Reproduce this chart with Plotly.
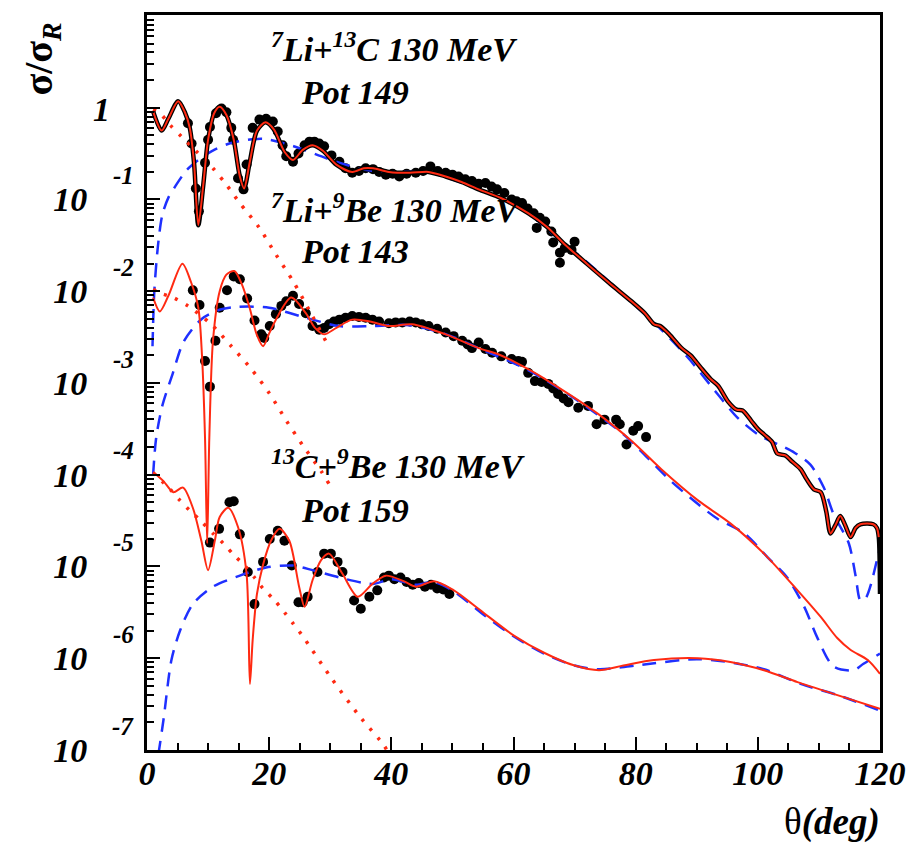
import plotly.graph_objects as go

# ---------------- 7Li + 13C, 130 MeV (Pot 149) ----------------
li13c_data_theta = [6.7, 7.3, 8.0, 8.5, 9.5, 10.0, 10.3, 11.3, 12.2, 13.0, 13.8, 14.1, 14.9, 15.8,
                    16.3, 17.3, 18.4, 19.5, 20.6, 21.4, 22.2, 22.8, 23.9, 24.8, 25.8, 26.6, 27.4,
                    28.2, 29.0, 30.2, 31.5, 32.5, 33.6, 34.7, 35.8, 37.0, 38.0, 39.1, 40.2, 41.3,
                    42.5, 44.0, 45.2, 46.4, 47.6, 48.9, 50.0, 51.0, 52.1, 53.2, 54.3, 55.4, 56.4,
                    57.3, 58.5, 59.7, 60.5, 61.4, 62.3, 63.3, 63.8, 64.3, 65.2, 66.2, 66.5, 67.6,
                    67.6, 68.4, 69.5, 70.0]
li13c_data_log = [-0.17, -0.39, -0.88, -1.13, -0.60, -0.35, -0.21, -0.06, -0.01, -0.05, -0.22, -0.35,
                  -0.77, -0.89, -0.62, -0.22, -0.13, -0.12, -0.15, -0.26, -0.41, -0.53, -0.59, -0.50,
                  -0.41, -0.37, -0.37, -0.39, -0.42, -0.52, -0.59, -0.66, -0.71, -0.69, -0.66, -0.67,
                  -0.70, -0.73, -0.72, -0.75, -0.72, -0.71, -0.69, -0.64, -0.69, -0.71, -0.73, -0.75,
                  -0.78, -0.80, -0.83, -0.82, -0.86, -0.89, -0.93, -1.00, -1.02, -1.04, -1.10, -1.15,
                  -1.31, -1.20, -1.24, -1.35, -1.47, -1.58, -1.69, -1.53, -1.55, -1.46]

li13c_fit_theta = [1.0, 2.4, 3.5, 5.1, 6.2, 7.0, 7.7, 8.4, 9.2, 10.0, 11.0, 11.9, 13.0, 14.2, 15.2,
                   15.9, 16.8, 18.0, 19.4, 20.8, 22.5, 23.9, 25.5, 27.1, 28.8, 31.0, 33.6, 35.5,
                   37.0, 39.6, 43.0, 46.1, 48.9, 51.5, 54.3, 58.1, 62.4, 65.5, 68.4, 72.0, 75.5,
                   79.3, 81.5, 83.0, 84.0, 85.5, 87.5, 89.0, 90.5, 92.3, 93.5, 95.1, 96.5, 97.5,
                   98.9, 100.0, 101.0, 102.3, 103.2, 104.5, 105.5, 107.0, 108.0, 109.2, 110.3,
                   111.2, 111.9, 112.7, 113.5, 114.3, 115.2, 116.0, 116.8, 118.9, 119.5, 119.8]
li13c_fit_log = [-0.04, -0.25, -0.12, 0.07, -0.05, -0.22, -0.60, -1.28, -0.85, -0.35, -0.06, 0.01,
                 -0.08, -0.35, -0.75, -0.88, -0.60, -0.25, -0.16, -0.24, -0.48, -0.57, -0.46, -0.41,
                 -0.47, -0.62, -0.70, -0.66, -0.66, -0.70, -0.71, -0.70, -0.75, -0.81, -0.89, -0.99,
                 -1.15, -1.30, -1.49, -1.70, -1.90, -2.11, -2.24, -2.36, -2.38, -2.47, -2.62, -2.70,
                 -2.82, -2.96, -3.03, -3.20, -3.29, -3.30, -3.41, -3.50, -3.56, -3.64, -3.77, -3.79,
                 -3.85, -3.94, -4.05, -4.16, -4.19, -4.40, -4.64, -4.55, -4.45, -4.55, -4.68, -4.58,
                 -4.54, -4.54, -4.58, -4.68]
li13c_tail_theta = [120.0]
li13c_tail_log = [-5.30]

li13c_far_theta = [0.9, 1.2, 1.8, 2.5, 3.5, 4.6, 6.5, 8.6, 11.0, 14.0, 19.0, 24.0, 29.3, 33.0, 36.0,
                   40.0, 46.0, 49.0, 54.3, 58.0, 62.4, 68.4, 72.0, 78.8, 83.6, 88.5, 93.4, 96.7,
                   100.0, 102.0, 104.3, 106.0, 108.6, 110.8, 112.4, 114.9, 116.0, 116.8, 117.6,
                   118.4, 119.5, 120.0]
li13c_far_log = [-2.60, -2.00, -1.50, -1.17, -0.98, -0.86, -0.68, -0.56, -0.46, -0.38, -0.34, -0.42,
                 -0.55, -0.63, -0.68, -0.70, -0.70, -0.76, -0.89, -0.99, -1.15, -1.49, -1.68, -2.09,
                 -2.38, -2.72, -3.12, -3.38, -3.56, -3.63, -3.70, -3.76, -3.89, -4.14, -4.43, -4.75,
                 -5.10, -5.37, -5.35, -5.22, -4.93, -4.80]

li13c_near_theta = [1.0, 2.1, 3.8, 5.7, 8.0, 10.8, 13.0, 15.2, 18.4, 21.1, 23.9, 26.5, 29.8]
li13c_near_log = [-0.02, -0.06, -0.19, -0.32, -0.47, -0.66, -0.84, -1.04, -1.31, -1.60, -1.89, -2.20, -2.61]

# ---------------- 7Li + 9Be, 130 MeV (Pot 143) ----------------
li9be_data_theta = [7.5, 8.6, 9.5, 10.3, 11.2, 11.9, 13.1, 14.2, 15.2, 16.4, 17.6, 18.7, 19.2, 20.1,
                    21.1, 22.0, 22.8, 23.9, 24.9, 26.0, 27.1, 28.2, 29.0, 29.8, 30.6, 31.5, 32.5,
                    33.6, 34.7, 35.8, 36.9, 38.0, 39.6, 40.7, 41.8, 43.0, 44.0, 45.0, 46.1, 47.5,
                    48.9, 50.2, 51.6, 52.5, 53.2, 54.3, 55.4, 56.5, 58.0, 59.7, 60.8, 61.4, 62.4,
                    63.5, 64.6, 65.7, 66.5, 67.3, 68.2, 69.0, 70.6, 72.2, 73.6, 74.9, 76.8, 77.4,
                    78.5, 79.6, 80.4, 81.7]
li9be_data_log = [-1.99, -2.15, -2.76, -3.04, -2.54, -2.18, -1.99, -1.84, -1.87, -2.08, -2.32, -2.47,
                  -2.51, -2.38, -2.25, -2.16, -2.11, -2.05, -2.14, -2.24, -2.38, -2.42, -2.40, -2.36,
                  -2.33, -2.31, -2.29, -2.27, -2.28, -2.29, -2.31, -2.33, -2.35, -2.34, -2.34, -2.33,
                  -2.34, -2.36, -2.38, -2.41, -2.45, -2.49, -2.54, -2.58, -2.62, -2.56, -2.63, -2.67,
                  -2.71, -2.74, -2.76, -2.77, -2.89, -2.98, -2.99, -3.01, -3.06, -3.12, -3.17, -3.21,
                  -3.27, -3.25, -3.45, -3.40, -3.40, -3.45, -3.67, -3.52, -3.47, -3.59]

li9be_fit_theta = [1.0, 2.1, 3.5, 5.8, 7.2, 8.4, 9.0, 9.5, 9.85, 10.2, 10.8, 11.9, 13.0, 14.3, 15.5,
                   16.8, 18.0, 19.0, 20.0, 21.1, 23.6, 26.0, 27.5, 29.0, 31.0, 33.6, 36.5, 39.6,
                   43.4, 48.9, 54.3, 57.6, 62.4, 65.7, 73.9, 79.3, 84.2, 90.2, 95.5, 101.0, 106.5,
                   110.3, 113.0, 115.2, 118.0, 120.0]
li9be_fit_log = [-2.07, -2.22, -2.05, -1.70, -1.90, -2.18, -2.70, -3.60, -4.75, -3.60, -2.54, -2.00,
                 -1.82, -1.78, -1.92, -2.18, -2.48, -2.60, -2.46, -2.31, -2.07, -2.24, -2.40, -2.47,
                 -2.40, -2.31, -2.33, -2.38, -2.36, -2.47, -2.62, -2.69, -2.85, -2.98, -3.34, -3.63,
                 -3.94, -4.28, -4.53, -4.86, -5.26, -5.55, -5.78, -5.91, -6.02, -6.17]

li9be_far_theta = [1.0, 1.5, 2.5, 4.2, 6.0, 9.0, 12.0, 15.0, 20.0, 26.0, 31.5, 37.0, 43.0, 49.0,
                   54.3, 62.4, 70.0, 78.0, 82.0, 85.8, 90.2, 93.4, 97.8, 101.6, 104.8, 107.6,
                   109.7, 112.4, 115.7, 117.3, 120.0]
li9be_far_log = [-4.00, -3.60, -3.25, -2.90, -2.55, -2.30, -2.20, -2.17, -2.18, -2.29, -2.38, -2.38,
                 -2.37, -2.47, -2.62, -2.86, -3.17, -3.56, -3.82, -4.07, -4.32, -4.48, -4.64, -4.90,
                 -5.12, -5.44, -5.77, -6.09, -6.13, -6.06, -5.95]

li9be_near_theta = [1.0, 2.1, 4.3, 6.7, 10.5, 13.8, 17.1, 20.1, 22.8, 25.5, 28.5, 29.8]
li9be_near_log = [-1.98, -2.02, -2.07, -2.16, -2.36, -2.60, -2.85, -3.12, -3.41, -3.68, -3.96, -4.10]

# ---------------- 13C + 9Be, 130 MeV (Pot 159) ----------------
c13be_data_theta = [10.3, 11.8, 13.5, 14.2, 15.2, 16.5, 17.6, 19.0, 20.1, 21.4, 22.5, 23.7, 24.8,
                    25.5, 26.3, 27.9, 29.0, 30.1, 31.2, 32.0, 33.9, 35.0, 36.4, 37.7, 38.8, 39.6,
                    40.5, 41.5, 42.5, 43.5, 44.5, 45.5, 46.5, 47.5, 48.5, 49.5]
c13be_data_log = [-4.74, -4.59, -4.30, -4.29, -4.65, -5.06, -5.41, -4.95, -4.70, -4.61, -4.72, -4.99,
                  -5.39, -5.39, -5.33, -5.06, -4.86, -4.86, -4.95, -5.06, -5.37, -5.46, -5.33, -5.26,
                  -5.12, -5.10, -5.14, -5.12, -5.17, -5.20, -5.18, -5.22, -5.20, -5.24, -5.25, -5.30]

c13be_fit_theta = [1.0, 2.7, 4.3, 5.9, 7.5, 8.9, 10.0, 11.1, 11.9, 13.3, 14.9, 16.3, 16.85, 17.3,
                   18.0, 19.0, 20.3, 21.7, 23.3, 24.9, 25.8, 27.1, 28.5, 29.8, 32.0, 34.5, 36.9,
                   39.1, 42.0, 44.0, 47.0, 50.0, 55.0, 60.0, 65.0, 70.0, 74.0, 78.0, 83.0, 90.2,
                   95.5, 101.0, 106.5, 112.0, 120.0]
c13be_fit_log = [-3.97, -4.07, -4.19, -4.14, -4.36, -4.72, -5.04, -4.72, -4.46, -4.36, -4.57, -5.08,
                 -6.28, -5.80, -5.30, -4.98, -4.72, -4.59, -4.72, -5.22, -5.44, -5.15, -4.93, -4.86,
                 -5.08, -5.33, -5.19, -5.10, -5.16, -5.22, -5.16, -5.25, -5.50, -5.75, -5.94, -6.08,
                 -6.13, -6.08, -6.02, -6.00, -6.04, -6.13, -6.26, -6.38, -6.55]

c13be_far_theta = [1.3, 2.7, 4.0, 5.4, 7.5, 10.8, 15.2, 19.5, 23.9, 27.1, 31.5, 36.9, 40.0, 44.0,
                   47.0, 50.0, 55.0, 60.0, 65.0, 70.0, 74.0, 80.0, 90.0, 96.0, 101.0, 107.0, 113.0,
                   120.0]
c13be_far_log = [-7.30, -6.67, -6.02, -5.70, -5.41, -5.22, -5.10, -5.01, -4.99, -5.04, -5.12, -5.19,
                 -5.14, -5.20, -5.17, -5.26, -5.52, -5.76, -5.95, -6.08, -6.12, -6.08, -6.01, -6.05,
                 -6.12, -6.28, -6.40, -6.57]

c13be_near_theta = [1.0, 3.8, 5.4, 7.0, 8.9, 10.8, 12.5, 14.3, 16.0, 17.6, 19.0, 20.9, 22.5, 23.9,
                    25.5, 30.0, 35.0, 38.8, 40.0]
c13be_near_log = [-3.98, -4.16, -4.28, -4.39, -4.51, -4.64, -4.75, -4.88, -4.99, -5.12, -5.24, -5.37,
                  -5.50, -5.62, -5.76, -6.20, -6.65, -6.95, -7.10]

# ---------------- axis ticks ----------------
y_tick_exponents = [-7, -6, -5, -4, -3, -2, -1, 0]
y_tick_mantissas = ["10", "10", "10", "10", "10", "10", "10", ""]
y_exponent_labels = ["-7", "-6", "-5", "-4", "-3", "-2", "-1"]
y_unit_label = "1"
x_tick_values = [0, 20, 40, 60, 80, 100, 120]

RED = "#ff2a12"
BLUE = "#1f30ff"
SERIF = "Liberation Serif"


def pow10(vals):
    return [10.0 ** v for v in vals]


fig = go.Figure()

datasets = [
    (li13c_data_theta, li13c_data_log, li13c_fit_theta, li13c_fit_log,
     li13c_far_theta, li13c_far_log, li13c_near_theta, li13c_near_log),
    (li9be_data_theta, li9be_data_log, li9be_fit_theta, li9be_fit_log,
     li9be_far_theta, li9be_far_log, li9be_near_theta, li9be_near_log),
    (c13be_data_theta, c13be_data_log, c13be_fit_theta, c13be_fit_log,
     c13be_far_theta, c13be_far_log, c13be_near_theta, c13be_near_log),
]

# experimental points
for d in datasets:
    fig.add_trace(go.Scatter(x=d[0], y=pow10(d[1]), mode="markers",
                             marker=dict(color="black", size=10, line=dict(width=0)),
                             showlegend=False))

# far-side components (dashed)
for d in datasets:
    fig.add_trace(go.Scatter(x=d[4], y=pow10(d[5]), mode="lines",
                             line=dict(color=BLUE, width=2.5, dash="14px,9px", shape="spline",
                                       smoothing=0.8),
                             showlegend=False))

# near-side components (dotted)
for d in datasets:
    fig.add_trace(go.Scatter(x=d[6], y=pow10(d[7]), mode="lines",
                             line=dict(color=RED, width=3.5, dash="3px,9px", shape="spline",
                                       smoothing=0.8),
                             showlegend=False))

# black companion curve for the 7Li+13C calculation
fig.add_trace(go.Scatter(x=li13c_fit_theta + li13c_tail_theta,
                         y=pow10(li13c_fit_log + li13c_tail_log), mode="lines",
                         line=dict(color="black", width=4.5, shape="spline", smoothing=0.8),
                         showlegend=False))

# full calculations (solid)
for d in datasets:
    fig.add_trace(go.Scatter(x=d[2], y=pow10(d[3]), mode="lines",
                             line=dict(color=RED, width=2, shape="spline", smoothing=0.8),
                             showlegend=False))

tick_font = dict(family=SERIF, size=34, color="black", weight="bold", style="italic")

fig.update_xaxes(range=[0, 120], showline=True, linecolor="black", linewidth=3, mirror=True,
                 ticks="inside", ticklen=13, tickwidth=2, tickcolor="black",
                 tickvals=x_tick_values, tickfont=tick_font, showgrid=False, zeroline=False,
                 ticklabelstandoff=-9,
                 minor=dict(ticks="inside", ticklen=7, tickwidth=2, tickcolor="black", dtick=5,
                            showgrid=False))

fig.update_yaxes(type="log", range=[-7.0, 1.01], showline=True, linecolor="black", linewidth=3,
                 mirror=True, ticks="inside", ticklen=13, tickwidth=2, tickcolor="black",
                 tickvals=pow10(y_tick_exponents), ticktext=y_tick_mantissas, tickfont=tick_font,
                 showgrid=False, zeroline=False, ticklabelstandoff=50,
                 minor=dict(ticks="inside", ticklen=7, tickwidth=2, tickcolor="black", dtick="D1",
                            showgrid=False))

# raised decade exponents beside the "10" labels
exp_font = dict(family=SERIF, size=25, color="black", weight="bold", style="italic")
for e, txt in zip(y_tick_exponents[:-1], y_exponent_labels):
    fig.add_annotation(text=txt, x=-0.015, y=e + 0.26, xref="paper", yref="y",
                       xanchor="right", yanchor="middle", showarrow=False, font=exp_font)
fig.add_annotation(text=y_unit_label, x=-0.0625, y=-0.02, xref="paper", yref="y",
                   xanchor="center", yanchor="middle", showarrow=False, font=tick_font)

label_font = dict(family=SERIF, size=34, color="black", weight="bold", style="italic")
labels = [
    ("<sup>7</sup>Li+<sup>13</sup>C 130 MeV", 0.167, 0.957),
    ("Pot 149", 0.208, 0.895),
    ("<sup>7</sup>Li+<sup>9</sup>Be 130 MeV", 0.167, 0.737),
    ("Pot 143", 0.208, 0.678),
    ("<sup>13</sup>C+<sup>9</sup>Be 130 MeV", 0.167, 0.389),
    ("Pot 159", 0.208, 0.326),
]
for text, px, py in labels:
    fig.add_annotation(text=text, x=px, y=py, xref="paper", yref="paper", xanchor="left",
                       yanchor="middle", showarrow=False, font=label_font)

# axis titles
fig.add_annotation(text="<b>σ/σ<sub><i>R</i></sub></b>", x=-0.144, y=0.94, xref="paper",
                   yref="paper", xanchor="center", yanchor="middle", textangle=-90,
                   showarrow=False, font=dict(family=SERIF, size=40, color="black"))
fig.add_annotation(text="θ<b><i>(deg)</i></b>", x=1.003, y=-0.098, xref="paper", yref="paper",
                   xanchor="right", yanchor="middle", showarrow=False,
                   font=dict(family=SERIF, size=37, color="black"))

fig.update_layout(width=918, height=845, margin=dict(l=147, r=35, t=13, b=95),
                  paper_bgcolor="white", plot_bgcolor="white", showlegend=False)

fig.write_html("out.html")
